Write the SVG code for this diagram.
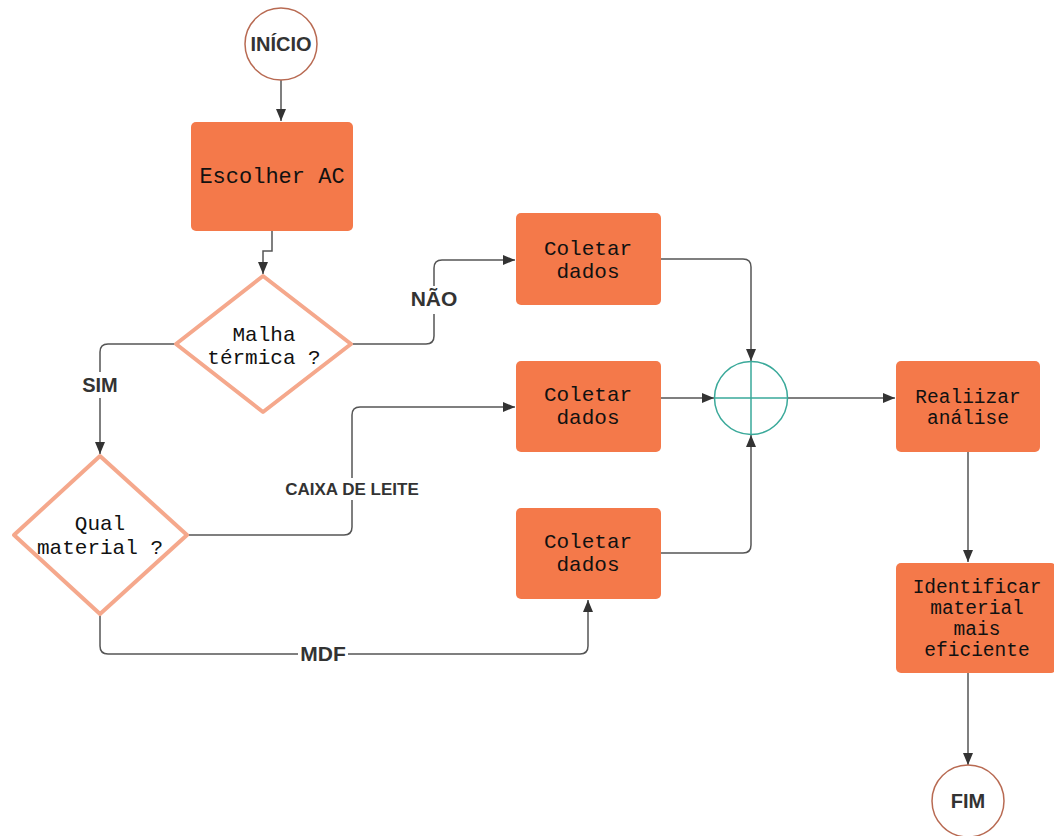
<svg xmlns="http://www.w3.org/2000/svg" width="1054" height="836" viewBox="0 0 1054 836">
<defs>
<marker id="arr" markerUnits="userSpaceOnUse" markerWidth="12" markerHeight="10" refX="12" refY="5" orient="auto">
<path d="M0,0 L12,5 L0,10 z" fill="#333"/>
</marker>
<style>
.box{fill:#f4794a;}
.dia{fill:#fff;stroke:#f5a88c;stroke-width:4;stroke-linejoin:round;}
.term{fill:#fff;stroke:#b86a52;stroke-width:1.5;}
.mono{font-family:"Liberation Mono","DejaVu Sans Mono",monospace;font-size:21px;fill:#111;text-anchor:middle;}
.mono20{font-family:"Liberation Mono","DejaVu Sans Mono",monospace;font-size:19.5px;fill:#111;text-anchor:middle;}
.lbl{font-family:"Liberation Sans",Arial,sans-serif;font-weight:bold;font-size:20px;fill:#333;text-anchor:middle;}
.conn{fill:none;stroke:#555;stroke-width:1.5;}
</style>
</defs>
<rect width="1054" height="836" fill="#fff"/>
<g id="connectors">
<path class="conn" d="M281 80 V121" marker-end="url(#arr)"/>
<path class="conn" d="M272 231 V251 H263 V274" marker-end="url(#arr)"/>
<path class="conn" d="M352 344 H426 Q434 344 434 336 V268 Q434 260 442 260 H515" marker-end="url(#arr)"/>
<path class="conn" d="M175 344 H108 Q100 344 100 352 V454" marker-end="url(#arr)"/>
<path class="conn" d="M188 535 H344 Q352 535 352 527 V415 Q352 407 360 407 H515" marker-end="url(#arr)"/>
<path class="conn" d="M100 615 V646 Q100 654 108 654 H580 Q588 654 588 646 V600" marker-end="url(#arr)"/>
<path class="conn" d="M660 259 H743 Q751 259 751 267 V361" marker-end="url(#arr)"/>
<path class="conn" d="M660 398 H714" marker-end="url(#arr)"/>
<path class="conn" d="M660 553 H743 Q751 553 751 545 V435" marker-end="url(#arr)"/>
<path class="conn" d="M787 398 H895" marker-end="url(#arr)"/>
<path class="conn" d="M968 452 V562" marker-end="url(#arr)"/>
<path class="conn" d="M968 673 V765" marker-end="url(#arr)"/>
<rect x="407" y="286" width="54" height="28" fill="#fff"/>
<text class="lbl" x="434" y="306" style="font-size:21px">NÃO</text>
<rect x="80" y="372" width="40" height="26" fill="#fff"/>
<text class="lbl" x="100" y="392">SIM</text>
<rect x="280" y="478" width="144" height="22" fill="#fff"/>
<text class="lbl" x="352" y="495" style="font-size:17px">CAIXA DE LEITE</text>
<rect x="298" y="641" width="50" height="24" fill="#fff"/>
<text class="lbl" x="323" y="661" style="font-size:21px">MDF</text>
</g>
<g id="inicio">
<circle class="term" cx="281" cy="44" r="36"/>
<text class="lbl" x="281" y="51">INÍCIO</text>
</g>
<g id="escolher">
<rect class="box" x="191" y="122" width="162" height="109" rx="5"/>
<text class="mono" x="272" y="183" style="font-size:22px">Escolher AC</text>
</g>
<g id="malha">
<path class="dia" d="M263 276 L351 344 L263 412 L176 344 Z"/>
<text class="mono" x="264" y="341">Malha</text>
<text class="mono" x="264" y="364">térmica ?</text>
</g>
<g id="qual">
<path class="dia" d="M100 456 L187 535 L100 614 L14 535 Z"/>
<text class="mono" x="100" y="530">Qual</text>
<text class="mono" x="100" y="554">material ?</text>
</g>
<g id="coletar1">
<rect class="box" x="516" y="213" width="145" height="92" rx="5"/>
<text class="mono" x="588" y="255">Coletar</text>
<text class="mono" x="588" y="278">dados</text>
</g>
<g id="coletar2">
<rect class="box" x="516" y="361" width="145" height="91" rx="5"/>
<text class="mono" x="588" y="401">Coletar</text>
<text class="mono" x="588" y="424">dados</text>
</g>
<g id="coletar3">
<rect class="box" x="516" y="508" width="145" height="91" rx="5"/>
<text class="mono" x="588" y="548">Coletar</text>
<text class="mono" x="588" y="571">dados</text>
</g>
<g id="juncao">
<circle cx="751" cy="398" r="36.5" fill="#fff" stroke="#3aa99a" stroke-width="1.5"/>
<path d="M714.5 398 H787.5 M751 361.5 V434.5" stroke="#3aa99a" stroke-width="1.5"/>
</g>
<g id="realizar">
<rect class="box" x="896" y="361" width="144" height="91" rx="5"/>
<text class="mono20" x="968" y="403">Realiizar</text>
<text class="mono20" x="968" y="424">análise</text>
</g>
<g id="identificar">
<rect class="box" x="896" y="563" width="160" height="110" rx="5"/>
<text class="mono20" x="977" y="593">Identificar</text>
<text class="mono20" x="977" y="614">material</text>
<text class="mono20" x="977" y="635">mais</text>
<text class="mono20" x="977" y="656">eficiente</text>
</g>
<g id="fim">
<circle class="term" cx="968" cy="801" r="36"/>
<text class="lbl" x="968" y="808">FIM</text>
</g>
</svg>
